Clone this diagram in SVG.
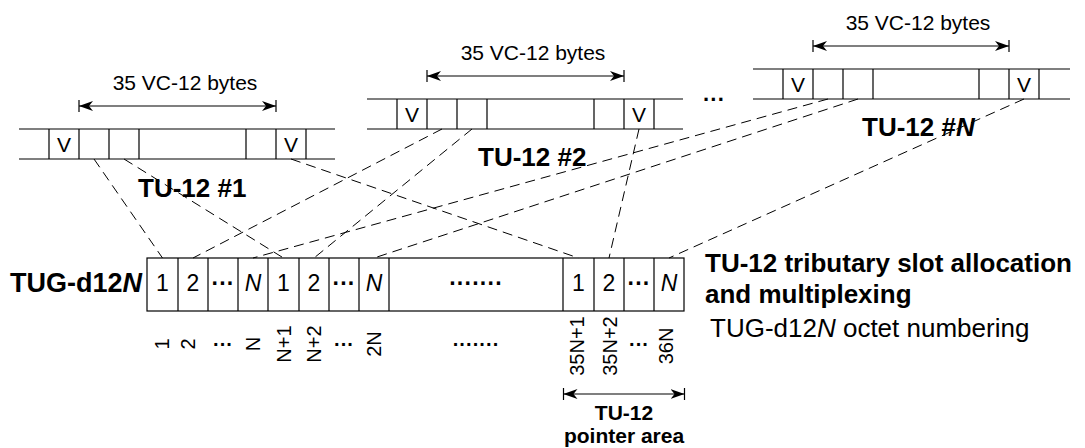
<svg xmlns="http://www.w3.org/2000/svg" width="1085" height="448" viewBox="0 0 1085 448">
<defs>
<style>
text{font-family:"Liberation Sans",Arial,sans-serif;fill:#000}
.ln{stroke:#000;stroke-width:1.2;fill:none}
.dash{stroke:#000;stroke-width:1;stroke-dasharray:10,6;fill:none}
.r21{font-size:21px}
.b26{font-size:26px;font-weight:bold}
.c{text-anchor:middle}
.num{font-size:20px;text-anchor:middle}
.cn{font-size:23px;text-anchor:middle}
.dt{font-weight:bold}
.it{font-style:italic}
</style>
<marker id="ah" viewBox="0 0 14 10" refX="14" refY="5" markerWidth="14" markerHeight="10" markerUnits="userSpaceOnUse" orient="auto-start-reverse"><path d="M0,0 L14,5 L0,10 L4,5 Z" fill="#000"/></marker>
</defs>
<rect width="1085" height="448" fill="#fff"/>

<g id="connectors">
<line class="dash" x1="94" y1="159" x2="162.5" y2="258"/>
<line class="dash" x1="124" y1="159" x2="283.5" y2="258"/>
<line class="dash" x1="291" y1="159" x2="578.5" y2="258"/>
<line class="dash" x1="442" y1="129" x2="193" y2="258"/>
<line class="dash" x1="472" y1="129" x2="314" y2="258"/>
<line class="dash" x1="639" y1="129" x2="609" y2="258"/>
<line class="dash" x1="828" y1="99" x2="253" y2="258"/>
<line class="dash" x1="858" y1="99" x2="374" y2="258"/>
<line class="dash" x1="1024" y1="99" x2="669" y2="258"/>
</g>

<g id="tu1">
<path class="ln" d="M19,129H335M19,159H335M49,129V159M79,129V159M109,129V159M139,129V159M246,129V159M276,129V159M306,129V159"/>
<text class="r21 c" x="64" y="151.5">V</text>
<text class="r21 c" x="291" y="151.5">V</text>
<path class="ln" d="M79,100V112M276,100V112"/>
<line class="ln" x1="79" y1="106" x2="276" y2="106" marker-start="url(#ah)" marker-end="url(#ah)"/>
<text class="r21 c" x="185" y="90">35 VC-12 bytes</text>
<text class="b26" x="138" y="197">TU-12 #1</text>
</g>

<g id="tu2">
<path class="ln" d="M367,99H683M367,129H683M397,99V129M427,99V129M457,99V129M487,99V129M594,99V129M624,99V129M654,99V129"/>
<text class="r21 c" x="412" y="121.5">V</text>
<text class="r21 c" x="639" y="121.5">V</text>
<path class="ln" d="M427,70V82M624,70V82"/>
<line class="ln" x1="427" y1="76" x2="624" y2="76" marker-start="url(#ah)" marker-end="url(#ah)"/>
<text class="r21 c" x="533" y="60">35 VC-12 bytes</text>
<text class="b26" x="478" y="166">TU-12 #2</text>
</g>

<text class="dt c" x="714" y="107" font-size="22">···</text>

<g id="tuN">
<path class="ln" d="M753,69H1070M753,99H1070M783,69V99M813,69V99M843,69V99M873,69V99M979,69V99M1009,69V99M1039,69V99"/>
<text class="r21 c" x="798" y="91.5">V</text>
<text class="r21 c" x="1024" y="91.5">V</text>
<path class="ln" d="M813,40V52M1009,40V52"/>
<line class="ln" x1="813" y1="46" x2="1009" y2="46" marker-start="url(#ah)" marker-end="url(#ah)"/>
<text class="r21 c" x="918" y="29.5">35 VC-12 bytes</text>
<text class="b26" x="862" y="136">TU-12 #<tspan class="it">N</tspan></text>
</g>

<g id="tug">
<rect class="ln" x="147" y="258" width="537" height="53"/>
<path class="ln" d="M178,258V311M208,258V311M238,258V311M268,258V311M299,258V311M329,258V311M359,258V311M389,258V311M563,258V311M594,258V311M624,258V311M654,258V311"/>
<text class="cn" x="162.5" y="291">1</text>
<text class="cn" x="193" y="291">2</text>
<text class="cn dt" x="223" y="291">···</text>
<text class="cn it" x="253" y="291">N</text>
<text class="cn" x="283.5" y="291">1</text>
<text class="cn" x="314" y="291">2</text>
<text class="cn dt" x="344" y="291">···</text>
<text class="cn it" x="374" y="291">N</text>
<text class="cn dt" x="476" y="291">·······</text>
<text class="cn" x="578.5" y="291">1</text>
<text class="cn" x="609" y="291">2</text>
<text class="cn dt" x="639" y="291">···</text>
<text class="cn it" x="669" y="291">N</text>
<text x="142" y="292" font-size="27" font-weight="bold" text-anchor="end">TUG-d12<tspan class="it">N</tspan></text>
</g>

<g id="numbering">
<text class="num" transform="translate(169,344) rotate(-90)">1</text>
<text class="num" transform="translate(195,344) rotate(-90)">2</text>
<text class="num dt" x="223" y="351">···</text>
<text class="num" transform="translate(260,344) rotate(-90)">N</text>
<text class="num" transform="translate(291,344) rotate(-90)">N+1</text>
<text class="num" transform="translate(321,344) rotate(-90)">N+2</text>
<text class="num dt" x="344" y="351">···</text>
<text class="num" transform="translate(381,344) rotate(-90)">2N</text>
<text class="num dt" x="476" y="351">·······</text>
<text class="num" transform="translate(584,346) rotate(-90)">35N+1</text>
<text class="num" transform="translate(617,346) rotate(-90)">35N+2</text>
<text class="num dt" x="639" y="351">···</text>
<text class="num" transform="translate(673,346) rotate(-90)">36N</text>
</g>

<g id="pointer">
<path class="ln" d="M563.5,388V400M684.5,388V400"/>
<line class="ln" x1="563.5" y1="394" x2="684.5" y2="394" marker-start="url(#ah)" marker-end="url(#ah)"/>
<text x="624" y="420" font-size="21" font-weight="bold" text-anchor="middle">TU-12</text>
<text x="624" y="443" font-size="21" font-weight="bold" text-anchor="middle">pointer area</text>
</g>

<g id="legend">
<text class="b26" x="705" y="272">TU-12 tributary slot allocation</text>
<text class="b26" x="705" y="303">and multiplexing</text>
<text x="710" y="337" font-size="26">TUG-d12<tspan class="it">N</tspan> octet numbering</text>
</g>
</svg>
